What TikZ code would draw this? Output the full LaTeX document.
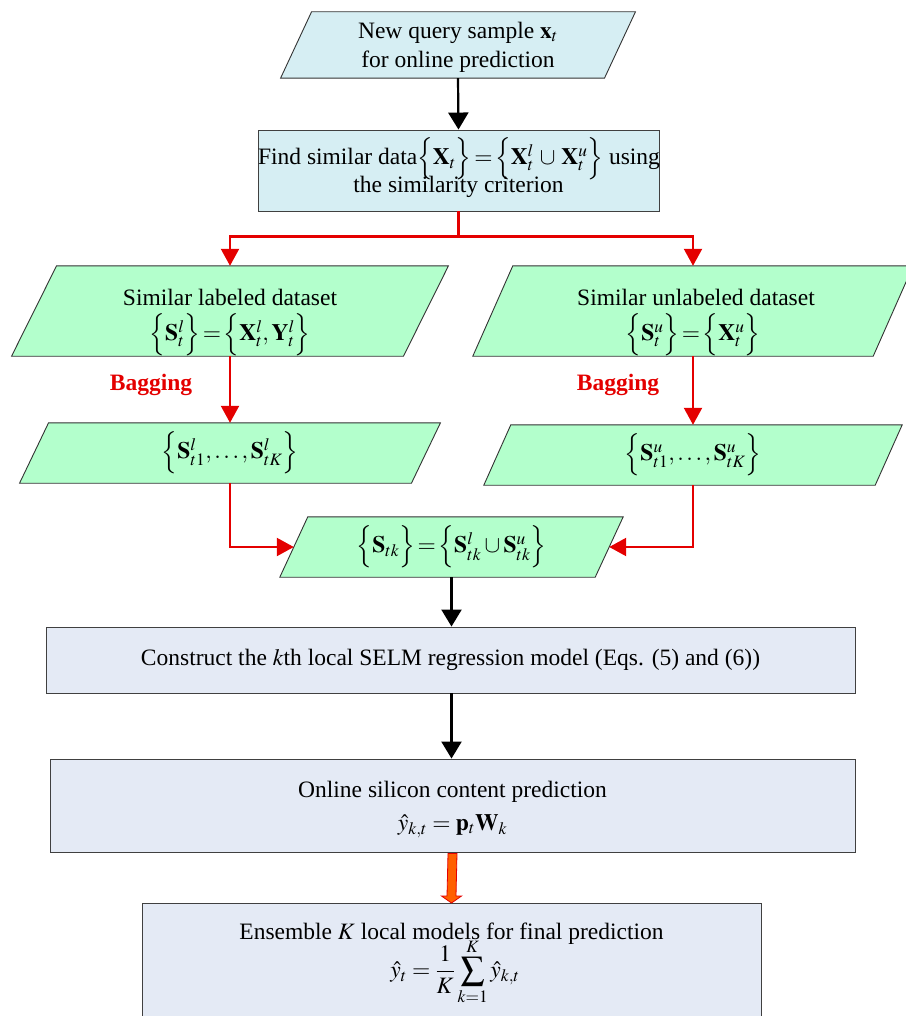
\documentclass[tikz,border=0pt]{standalone}
\usepackage{mathptmx}
\usepackage{fontspec}
\setmainfont{Liberation Serif}
\usetikzlibrary{arrows.meta,backgrounds,calc}
\definecolor{cyanfill}{RGB}{214,238,243}
\definecolor{greenfill}{RGB}{179,255,204}
\definecolor{bluefill}{RGB}{228,234,245}
\definecolor{redline}{RGB}{228,0,0}
\definecolor{orangefill}{RGB}{255,96,0}
\newcommand\lb{\Bigl\{}
\newcommand\rb{\Bigr\}}
\newcommand\meq{\!=\!}
\newcommand\mcup{\mskip2mu\cup\mskip2mu}
\tikzset{
  txt/.style={font=\fontsize{23.5}{29}\selectfont, align=center, inner sep=0pt},
  pbox/.style={txt, minimum width=#1},
  rbox/.style={txt, draw=black!75, line width=0.9pt},
  blackarrow/.style={line width=2.2pt, black, -{Triangle[width=20pt,length=17pt]}},
  redarrow/.style={line width=2.2pt, redline, -{Triangle[width=18pt,length=17pt]}},
  redplain/.style={line width=2.2pt, redline},
  baglabel/.style={font=\fontsize{23.5}{29}\selectfont\bfseries, text=redline, inner sep=0pt}
}
\newcommand\mypara[3]{%
  \begin{pgfonlayer}{background}
  \filldraw[fill=#3, draw=black!80, line width=0.9pt]
    ([xshift=#2]#1.north west) -- ([xshift=#2]#1.north east) --
    ([xshift=-#2]#1.south east) -- ([xshift=-#2]#1.south west) -- cycle;
  \end{pgfonlayer}}
\begin{document}
\begin{tikzpicture}[x=1pt,y=-1pt]
\useasboundingbox (0,0) rectangle (905,1016);

% top parallelogram
\node[pbox=323.5pt, minimum height=66pt] (top) at (458,45) {};
\mypara{top}{15.5pt}{cyanfill}
\node[txt] (toptxt) at (458,47) {New query sample $\mathbf{x}_t$\\for online prediction};

% find similar
\node[rbox, fill=cyanfill, minimum width=401pt, minimum height=81pt] (find) at (458.5,170.5) {};
\node[txt] (findtxt1) at (459,159)
  {Find similar data$\lb\mathbf{X}_t\rb\meq\lb\mathbf{X}_t^l\mcup\mathbf{X}_t^u\rb$ using};
\node[txt] (findtxt2) at (458.5,187) {the similarity criterion};

% labeled / unlabeled
\node[pbox=391.5pt, minimum height=90pt] (lp) at (230,311) {};
\mypara{lp}{22.5pt}{greenfill}
\node[txt] (lptxt) at (230,297) {Similar labeled dataset};
\node[txt] (lpeq) at (230,335) {$\lb\mathbf{S}_t^l\rb\meq\lb\mathbf{X}_t^l,\mathbf{Y}_t^l\rb$};
\node[pbox=400pt, minimum height=90pt] (rp) at (693,311) {};
\mypara{rp}{20pt}{greenfill}
\node[txt] (rptxt) at (696,297) {Similar unlabeled dataset};
\node[txt] (rpeq) at (693,335) {$\lb\mathbf{S}_t^u\rb\meq\lb\mathbf{X}_t^u\rb$};

% bagging labels
\node[baglabel] (bagl) at (151,385) {Bagging};
\node[baglabel] (bagr) at (618,385) {Bagging};

% bagged subsets
\node[pbox=391.5pt, minimum height=60pt] (ls) at (230,453)
  {$\lb\mathbf{S}_{t1}^l,\ldots,\mathbf{S}_{tK}^l\rb$};
\mypara{ls}{14.5pt}{greenfill}
\node[pbox=391pt, minimum height=60pt] (rs) at (693,455)
  {$\lb\mathbf{S}_{t1}^u,\ldots,\mathbf{S}_{tK}^u\rb$};
\mypara{rs}{13.5pt}{greenfill}

% merged
\node[pbox=315pt, minimum height=60pt] (merge) at (451.5,547)
  {$\lb\mathbf{S}_{tk}\rb\meq\lb\mathbf{S}_{tk}^l\cup\mathbf{S}_{tk}^u\rb$};
\mypara{merge}{14pt}{greenfill}

% construct
\node[rbox, fill=bluefill, minimum width=809pt, minimum height=66pt] (cons) at (450.5,660)
  {Construct the $k$th local SELM regression model (Eqs. (5) and (6))};

% online
\node[rbox, fill=bluefill, minimum width=805pt, minimum height=93pt] (online) at (452.5,805.5) {};
\node[txt] (onlinetxt) at (452.5,792) {Online silicon content prediction};
\node[txt] (onlineeq) at (452.5,826) {$\hat{y}_{k,t}=\mathbf{p}_t\mathbf{W}_k$};

% ensemble
\node[rbox, fill=bluefill, minimum width=619pt, minimum height=122pt, anchor=north] (ens) at (451.5,903) {};
\node[txt] (enstxt) at (451.5,934) {Ensemble $K$ local models for final prediction};
\node[txt] (enseq) at (455,972)
  {$\displaystyle\hat{y}_t=\frac{1}{K}\sum_{k=1}^{K}\hat{y}_{k,t}$};

% connectors
\draw[blackarrow] (top.south) -- (find.north);
\coordinate (split) at ($(find.south)+(0,25)$);
\draw[redplain] (find.south) -- (split);
\draw[redarrow] (split) -| (lp.north);
\draw[redarrow] (split) -| (rp.north);
\draw[redarrow] (lp.south) -- (ls.north);
\draw[redarrow] (rp.south) -- (rp.south |- rs.north);
\draw[redarrow] (ls.south) |- (merge.west);
\draw[redarrow] (rp.south |- rs.south) |- (merge.east);
\draw[blackarrow] (merge.south) -- (merge.south |- cons.north);
\draw[blackarrow] (cons.south -| merge.south) -- (merge.south |- online.north);

% orange block arrow
\coordinate (oa) at ($(online.south)+(0,1)$);
\coordinate (ob) at (ens.north);
\filldraw[fill=orangefill, draw=redline, line width=0.8pt]
  ($(oa)+(-4.5,0)$) -- ($(oa)+(4.5,0)$) -- ($(ob)+(4.5,-7)$) -- ($(ob)+(10,-7)$) --
  (ob) -- ($(ob)+(-10,-7)$) -- ($(ob)+(-4.5,-7)$) -- cycle;
\end{tikzpicture}
\end{document}
